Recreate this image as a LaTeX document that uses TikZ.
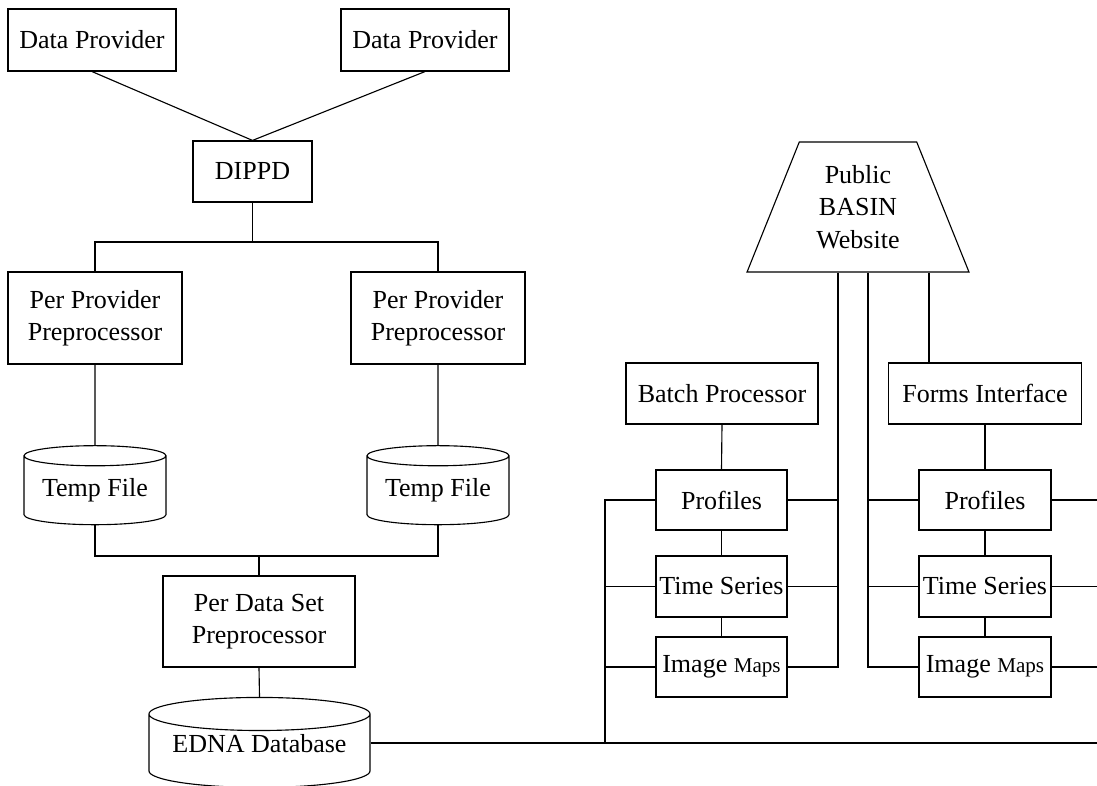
\documentclass[tikz,border=0pt]{standalone}
\usepackage{fontspec}
\setmainfont{Liberation Serif}
\usetikzlibrary{shapes.geometric}

\tikzset{
  every node/.style={font=\fontsize{18.5}{23}\selectfont, align=center, inner sep=0pt},
  box/.style={draw, rectangle},
  drum/.style={draw, cylinder, shape border rotate=90, aspect=0.19},
  site/.style={draw, trapezium, trapezium left angle=66, trapezium right angle=66,
    trapezium stretches=true}
}

\begin{document}
\begin{tikzpicture}[x=0.025cm, y=-0.025cm, line width=0.8pt]
        \useasboundingbox (0,0) rectangle (1097,786);

        % providers
        \node[box, minimum width=4.2cm, minimum height=1.55cm] (provA) at (92,40) {Data Provider};
        \node[box, minimum width=4.2cm, minimum height=1.55cm] (provB) at (425,40) {Data Provider};
        \node[box, minimum width=2.975cm, minimum height=1.525cm] (dippd) at (252.5,171.5) {DIPPD};

        \draw (provA.south) -- (dippd.north);
        \draw (provB.south) -- (dippd.north);

        % preprocessing
        \node[box, minimum width=4.35cm, minimum height=2.3cm] (pppA) at (95,318) {Per Provider\\Preprocessor};
        \node[box, minimum width=4.35cm, minimum height=2.3cm] (pppB) at (438,318) {Per Provider\\Preprocessor};
        \coordinate (split) at (252.5,242);

        \draw (dippd.south) -- (split);
        \draw (pppA.north) |- (split) -| (pppB.north);

        \node[drum, minimum width=3.55cm, minimum height=1.975cm] (tmpA) at (95,490.5) {Temp File};
        \node[drum, minimum width=3.55cm, minimum height=1.975cm] (tmpB) at (438,490.5) {Temp File};

        \draw (pppA.south) -- (tmpA.north);
        \draw (pppB.south) -- (tmpB.north);

        \node[box, minimum width=4.8cm, minimum height=2.275cm] (pdsp) at (259,621.5) {Per Data Set\\Preprocessor};
        \coordinate (merge) at (259,556);

        \draw (tmpA.south) |- (merge) -| (tmpB.south);
        \draw (merge) -- (pdsp.north);

        \node[drum, minimum width=5.525cm, minimum height=2.25cm] (edna) at (259.5,751) {\raisebox{5.5pt}[\height][\depth]{EDNA Database}};
        \coordinate (rim) at (1097,743);

        \draw (pdsp.south) -- (edna.north);
        \draw (edna.east |- rim) -- (rim);

        % website
        \node[site, minimum width=5.55cm, minimum height=3.25cm] (web) at (858,207) {Public\\BASIN\\Website};
        \path (web.south) ++(-20,0) coordinate (webA) ++(30,0) coordinate (webB) ++(61,0) coordinate (webC);

        \node[box, minimum width=4.8cm, minimum height=1.525cm] (batch) at (722,393.5) {Batch Processor};
        \node[box, minimum width=4.825cm, minimum height=1.525cm] (forms) at (985,393.5) {Forms Interface};

        \draw (webC) -- (webC |- forms.north);

        % batch side
        \node[box, minimum width=3.275cm, minimum height=1.5cm] (profA) at (721.5,500) {Profiles};
        \node[box, minimum width=3.275cm, minimum height=1.525cm] (tsA) at (721.5,586.5) {Time Series};
        \node[box, minimum width=3.275cm, minimum height=1.5cm] (imA) at (721.5,667) {Image {\fontsize{15}{18}\selectfont Maps}};
        \coordinate (busA) at (605,743);

        \draw (batch.south) -- (profA.north);
        \draw (profA.south) -- (tsA.north);
        \draw (tsA.south) -- (imA.north);
        \draw (profA.west) -| (busA);
        \draw (tsA.west) -- (tsA.west -| busA);
        \draw (imA.west) -- (imA.west -| busA);
        \draw (webA) |- (imA.east);
        \draw (profA.east) -- (profA.east -| webA);
        \draw (tsA.east) -- (tsA.east -| webA);

        % forms side
        \node[box, minimum width=3.3cm, minimum height=1.5cm] (profB) at (985,500) {Profiles};
        \node[box, minimum width=3.3cm, minimum height=1.525cm] (tsB) at (985,586.5) {Time Series};
        \node[box, minimum width=3.3cm, minimum height=1.5cm] (imB) at (985,667) {Image {\fontsize{15}{18}\selectfont Maps}};

        \draw (forms.south) -- (profB.north);
        \draw (profB.south) -- (tsB.north);
        \draw (tsB.south) -- (imB.north);
        \draw (webB) |- (imB.west);
        \draw (profB.west) -- (profB.west -| webB);
        \draw (tsB.west) -- (tsB.west -| webB);
        \draw (profB.east) -- (profB.east -| rim);
        \draw (tsB.east) -- (tsB.east -| rim);
        \draw (imB.east) -- (imB.east -| rim);

\end{tikzpicture}
\end{document}
